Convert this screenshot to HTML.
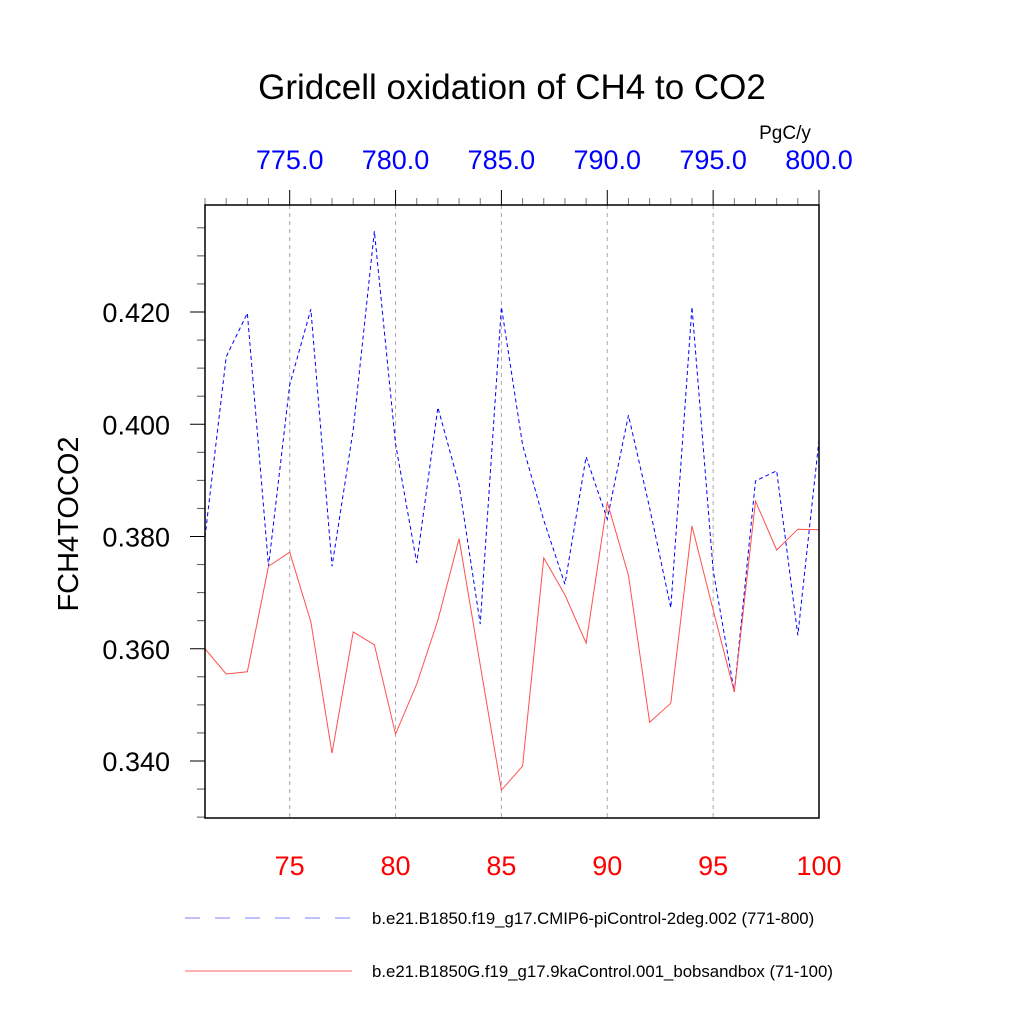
<!DOCTYPE html>
<html><head><meta charset="utf-8"><style>
body{margin:0;background:#fff;}
svg text{font-family:"Liberation Sans",sans-serif;}
</style></head><body>
<svg id="chart" width="1024" height="1024" xmlns="http://www.w3.org/2000/svg">
<rect width="1024" height="1024" fill="#fff"/>
<text x="512" y="99" font-size="35" text-anchor="middle">Gridcell oxidation of CH4 to CO2</text>
<text x="785" y="139" font-size="19" text-anchor="middle">PgC/y</text>
<text transform="translate(78,524) rotate(-90)" font-size="29" text-anchor="middle">FCH4TOCO2</text>
<g id="grid"></g>
<g id="series"></g>
<g id="axes"></g>
<g>
<line x1="185" y1="918" x2="352" y2="918" stroke="#8080ff" stroke-width="1" stroke-dasharray="15,15"/>
<text x="372" y="924" font-size="16.8">b.e21.B1850.f19_g17.CMIP6-piControl-2deg.002 (771-800)</text>
<line x1="185" y1="971" x2="352" y2="971" stroke="#ff6060" stroke-width="1"/>
<text x="372" y="977" font-size="16.8">b.e21.B1850G.f19_g17.9kaControl.001_bobsandbox (71-100)</text>
</g>
</svg>
<script>
const years = [71,72,73,74,75,76,77,78,79,80,81,82,83,84,85,86,87,88,89,90,91,92,93,94,95,96,97,98,99,100];
const blueValues = [0.3799,0.4120,0.4198,0.3747,0.4070,0.4205,0.3747,0.3990,0.4344,0.3965,0.3753,0.4030,0.3892,0.3644,0.4209,0.3963,0.3829,0.3715,0.3942,0.3831,0.4016,0.3851,0.3673,0.4209,0.3740,0.3523,0.3899,0.3917,0.3624,0.3972];
const redValues = [0.3600,0.3555,0.3559,0.3747,0.3772,0.3648,0.3414,0.3630,0.3607,0.3448,0.3537,0.3651,0.3796,0.3571,0.3348,0.3391,0.3762,0.3696,0.3610,0.3861,0.3731,0.3469,0.3503,0.3819,0.3669,0.3523,0.3863,0.3776,0.3813,0.3812];
const yTicks = [0.340,0.360,0.380,0.400,0.420];
const yTickLabels = ["0.340","0.360","0.380","0.400","0.420"];
const bottomTicks = [75,80,85,90,95,100];
const bottomTickLabels = ["75","80","85","90","95","100"];
const topTickLabels = ["775.0","780.0","785.0","790.0","795.0","800.0"];

const L=205,R=819,T=205,B=818;
const xMin=71,xMax=100;
const yRef0=0.420,yRefPx0=312,yRef1=0.340,yRefPx1=761;
const X=v=>L+(v-xMin)/(xMax-xMin)*(R-L);
const Y=v=>yRefPx0+(v-yRef0)/(yRef1-yRef0)*(yRefPx1-yRefPx0);
const yMinV=yRef0+(B-yRefPx0)*(yRef1-yRef0)/(yRefPx1-yRefPx0);
const yMaxV=yRef0+(T-yRefPx0)*(yRef1-yRef0)/(yRefPx1-yRefPx0);
const NS="http://www.w3.org/2000/svg";
function mk(tag,parent,attrs){const e=document.createElementNS(NS,tag);for(const k in attrs)e.setAttribute(k,attrs[k]);parent.appendChild(e);return e;}
const grid=document.getElementById('grid'),series=document.getElementById('series'),axes=document.getElementById('axes');

bottomTicks.forEach((t,i)=>{
  if(t<xMax){const g=mk('line',grid,{x1:X(t),x2:X(t),y1:T,y2:B,stroke:'#aaa','stroke-width':1,'stroke-dasharray':'4,4'});
  
  }
  const b=mk('text',axes,{x:X(t),y:875,'font-size':27,fill:'#ff0000','text-anchor':'middle'});b.textContent=bottomTickLabels[i];
  
  
  const tp=mk('text',axes,{x:X(t),y:169,'font-size':27,fill:'#0000ff','text-anchor':'middle'});tp.textContent=topTickLabels[i];
  
  
});
for(let y=xMin;y<=xMax;y++){
  const major=(y%5===0);
  const t=mk('line',axes,{x1:X(y),x2:X(y),y1:T,y2:T-(major?15:7),stroke:major?'#000':'#777','stroke-width':1});
  
  
}
for(let v=0.330;v<=yMaxV+1e-9;v+=0.005){
  if(v<yMinV-1e-9)continue;
  const major=Math.abs(Math.round(v*1000)%20)===0;
  const t=mk('line',axes,{x1:L,x2:L-(major?15:8),y1:Y(v),y2:Y(v),stroke:major?'#000':'#555','stroke-width':1});
  
  
}
yTicks.forEach((v,i)=>{
  const t=mk('text',axes,{x:170,y:Y(v)+10,'font-size':27,'text-anchor':'end'});t.textContent=yTickLabels[i];
  
  
});
const frame=mk('rect',axes,{x:L,y:T,width:R-L,height:B-T,fill:'none',stroke:'#000','stroke-width':1.5});



const bl=mk('polyline',series,{points:years.map((y,i)=>X(y)+','+Y(blueValues[i])).join(' '),fill:'none',stroke:'#0000ff','stroke-width':1,'stroke-dasharray':'4,3'});


const rl=mk('polyline',series,{points:years.map((y,i)=>X(y)+','+Y(redValues[i])).join(' '),fill:'none',stroke:'#ff5050','stroke-width':1});


</script>
</body></html>
